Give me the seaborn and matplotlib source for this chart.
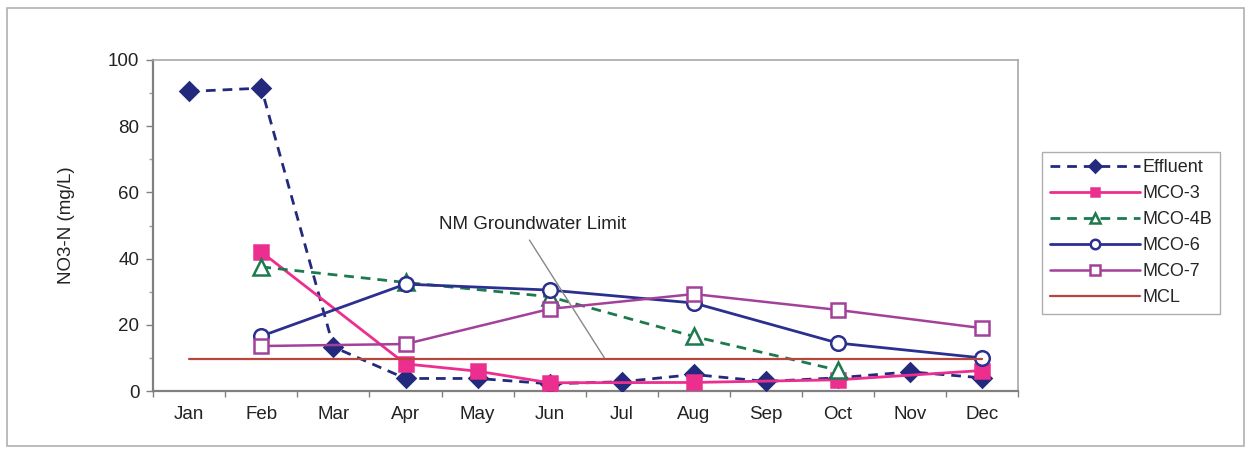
import numpy as np
import pandas as pd
import matplotlib
matplotlib.use("Agg")
import matplotlib.pyplot as plt
from matplotlib.patches import Rectangle
from matplotlib.ticker import MultipleLocator
import seaborn as sns

months = ["Jan", "Feb", "Mar", "Apr", "May", "Jun", "Jul", "Aug", "Sep", "Oct", "Nov", "Dec"]
nan = np.nan

effluent = [90.5, 91.5, 13.3, 3.8, 3.8, 2.2, 2.8, 5.0, 2.9, 4.0, 5.8, 4.0]
mco3 = [nan, 42.0, nan, 8.2, 6.0, 2.5, nan, 2.6, nan, 3.4, nan, 6.2]
mco4b = [nan, 37.5, nan, 32.8, nan, 28.5, nan, 16.5, nan, 6.3, nan, nan]
mco6 = [nan, 16.6, nan, 32.3, nan, 30.5, nan, 26.6, nan, 14.5, nan, 10.0]
mco7 = [nan, 13.6, nan, 14.2, nan, 24.8, nan, 29.3, nan, 24.5, nan, 19.0]
mcl = [9.7] * 12

series_names = ["Effluent", "MCO-3", "MCO-4B", "MCO-6", "MCO-7", "MCL"]
series_values = [effluent, mco3, mco4b, mco6, mco7, mcl]

styles = {
    "Effluent": dict(color="#232a7e", ls=(0, (3.5, 2.5)), marker="D", ms=9.5, mfc="#232a7e", lw=2.0),
    "MCO-3": dict(color="#ec2e8e", ls="-", marker="s", ms=9.5, mfc="#ec2e8e", lw=2.0),
    "MCO-4B": dict(color="#1d7a4e", ls=(0, (3.5, 2.5)), marker="^", ms=11, mfc="white", lw=2.0),
    "MCO-6": dict(color="#2b2f8e", ls="-", marker="o", ms=10.5, mfc="white", lw=2.0),
    "MCO-7": dict(color="#a3409a", ls="-", marker="s", ms=10.5, mfc="white", lw=1.8),
    "MCL": dict(color="#b5473f", ls="-", marker=None, ms=0, mfc="none", lw=1.6),
}

rows = []
for name, vals in zip(series_names, series_values):
    for i, v in enumerate(vals):
        if not np.isnan(v):
            rows.append({"series": name, "month": i, "value": v})
df = pd.DataFrame(rows)

sns.set_theme(style="white")
plt.rcParams["font.family"] = ["Liberation Sans", "DejaVu Sans"]

fig = plt.figure(figsize=(12.48, 4.5), dpi=100)
ax = fig.add_axes([0.1228, 0.131, 0.6930, 0.7357])

for name in series_names:
    st = styles[name]
    sub = df[df["series"] == name]
    sns.lineplot(data=sub, x="month", y="value", ax=ax, color=st["color"],
                 linestyle=st["ls"], linewidth=st["lw"], label=name,
                 marker=st["marker"], markersize=st["ms"],
                 markerfacecolor=st["mfc"], markeredgecolor=st["color"],
                 markeredgewidth=1.8, estimator=None, sort=False, zorder=3)

ax.set_xlim(-0.5, 11.5)
ax.set_ylim(0, 100)
ax.set_xticks(range(12))
ax.set_xticklabels(months)
ax.xaxis.set_minor_locator(MultipleLocator(1, offset=0.5))
ax.yaxis.set_major_locator(MultipleLocator(20))
ax.yaxis.set_minor_locator(MultipleLocator(10))
ax.tick_params(axis="x", which="major", length=0, pad=11, labelsize=13.5, colors="#222222")
ax.tick_params(axis="x", which="minor", length=4, width=1, color="#808080", direction="out", bottom=True)
ax.tick_params(axis="y", which="major", length=5, width=1, color="#808080", direction="out", left=True,
               labelsize=13.5, labelcolor="#222222", pad=5)
ax.tick_params(axis="y", which="minor", length=3, width=1, color="#a0a0a0", direction="out", left=True)
ax.set_xlabel("")
ax.set_ylabel("NO3-N (mg/L)", fontsize=13.5, color="#222222", labelpad=24)
for side in ["left", "bottom"]:
    ax.spines[side].set_color("#808080")
    ax.spines[side].set_linewidth(1.6)
for side in ["top", "right"]:
    ax.spines[side].set_color("#a8a8a8")
    ax.spines[side].set_linewidth(1.2)

# label for the MCL line with a leader
ax.text(4.76, 50.2, "NM Groundwater Limit", ha="center", va="center",
        fontsize=13.5, color="#222222")
ax.annotate("", xy=(5.76, 10), xytext=(4.72, 45.6),
            arrowprops=dict(arrowstyle="-", color="#888888", lw=1.0,
                            shrinkA=0, shrinkB=0))

leg = ax.legend(loc="upper left", bbox_to_anchor=(1.0176, 0.749), frameon=True,
                fontsize=13, handlelength=5.0, handletextpad=0.15,
                labelspacing=0.5, borderpad=0.4, fancybox=False)
leg.get_frame().set_edgecolor("#9a9a9a")
leg.get_frame().set_linewidth(1.0)
for h in leg.legend_handles:
    h.set_markersize(h.get_markersize() * 0.65)

fig.patches.append(Rectangle((0.006, 0.01), 0.991, 0.972, transform=fig.transFigure,
                             fill=False, edgecolor="#b0b0b0", lw=1.2))

fig.savefig("out.png", dpi=100)
